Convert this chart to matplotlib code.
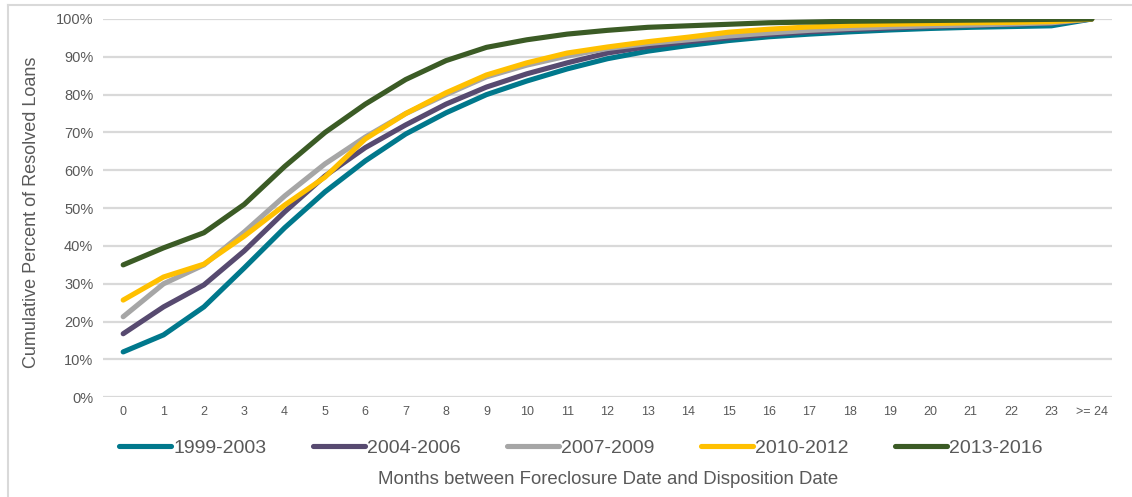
import matplotlib
matplotlib.use('Agg')
import matplotlib.pyplot as plt
from matplotlib.lines import Line2D
from matplotlib.ticker import FuncFormatter

plt.rcParams['font.family'] = ['Liberation Sans', 'DejaVu Sans']

# data (cumulative %)
months = ['0', '1', '2', '3', '4', '5', '6', '7', '8', '9', '10', '11', '12',
          '13', '14', '15', '16', '17', '18', '19', '20', '21', '22', '23', '>= 24']
series_names = ['1999-2003', '2004-2006', '2007-2009', '2010-2012', '2013-2016']
v_1999 = [12.0, 16.5, 23.9, 34.2, 44.8, 54.3, 62.5, 69.6, 75.2, 80.0, 83.6, 86.8, 89.5,
          91.5, 93.0, 94.3, 95.3, 96.0, 96.6, 97.1, 97.5, 97.8, 98.0, 98.2, 100.0]
v_2004 = [16.8, 23.9, 29.7, 38.7, 49.0, 58.5, 66.0, 72.0, 77.5, 82.0, 85.5, 88.4, 91.0,
          92.7, 94.0, 95.0, 95.9, 96.6, 97.2, 97.6, 98.0, 98.3, 98.6, 98.9, 100.0]
v_2007 = [21.3, 30.0, 35.0, 43.7, 53.2, 61.7, 68.8, 75.0, 80.0, 84.7, 87.8, 90.2, 92.2,
          93.5, 94.5, 95.5, 96.3, 97.0, 97.5, 97.9, 98.2, 98.4, 98.7, 99.0, 100.0]
v_2010 = [25.7, 31.8, 35.2, 42.6, 50.8, 58.2, 68.3, 75.0, 80.5, 85.2, 88.4, 91.0, 92.6,
          94.0, 95.2, 96.5, 97.3, 97.9, 98.3, 98.6, 98.8, 99.0, 99.1, 99.3, 100.0]
v_2013 = [35.0, 39.5, 43.5, 51.0, 61.0, 70.0, 77.5, 84.0, 89.0, 92.5, 94.5, 96.0, 97.0,
          97.8, 98.2, 98.6, 99.0, 99.2, 99.4, 99.5, 99.6, 99.7, 99.8, 99.9, 100.0]
colors = ['#00788C', '#574A70', '#A6A6A6', '#FFC000', '#3B5B25']

fig = plt.figure(figsize=(11.32, 4.97), dpi=100)
ax = fig.add_axes([0.091, 0.2006, 0.8913, 0.7612])

x = list(range(len(months)))
for name, vals, c in zip(series_names, [v_1999, v_2004, v_2007, v_2010, v_2013], colors):
    ax.plot(x, vals, color=c, lw=3.7, label=name,
            solid_capstyle='round', solid_joinstyle='round')

ax.set_xlim(-0.5, len(months) - 0.5)
ax.set_ylim(0, 100)
ax.set_yticks(range(0, 101, 10))
ax.yaxis.set_major_formatter(FuncFormatter(lambda v, p: '%d%%' % v))
ax.set_xticks(x)
ax.set_xticklabels(months)
ax.tick_params(axis='y', length=0, pad=7, labelsize=10.5, labelcolor='#595959')
ax.tick_params(axis='x', length=0, pad=6, labelsize=9, labelcolor='#595959')
ax.grid(axis='y', color='#d9d9d9', lw=1.6)
ax.set_axisbelow(True)
for s in ['top', 'right', 'left', 'bottom']:
    ax.spines[s].set_visible(False)

fig.text(32 / 1132, 1 - 212 / 497, 'Cumulative Percent of Resolved Loans', rotation=90,
         ha='center', va='center', fontsize=13, color='#595959')
fig.text(608 / 1132, 1 - 480 / 497, 'Months between Foreclosure Date and Disposition Date',
         ha='center', va='center', fontsize=13.4, color='#595959')

leg = fig.legend(loc='center', bbox_to_anchor=(581 / 1132, 1 - 448 / 497), ncol=5,
                 frameon=False, fontsize=14, handlelength=2.65, handletextpad=0.12,
                 columnspacing=2.4)
for t in leg.get_texts():
    t.set_color('#595959')

# outer frame (left and top edges visible)
fx = 8 / 1132
fy = 1 - 5 / 497
fig.add_artist(Line2D([fx, fx], [0, fy], transform=fig.transFigure, color='#d9d9d9', lw=1.5))
fig.add_artist(Line2D([fx, 1], [fy, fy], transform=fig.transFigure, color='#d9d9d9', lw=1.5))

fig.savefig('out.png', dpi=100)
